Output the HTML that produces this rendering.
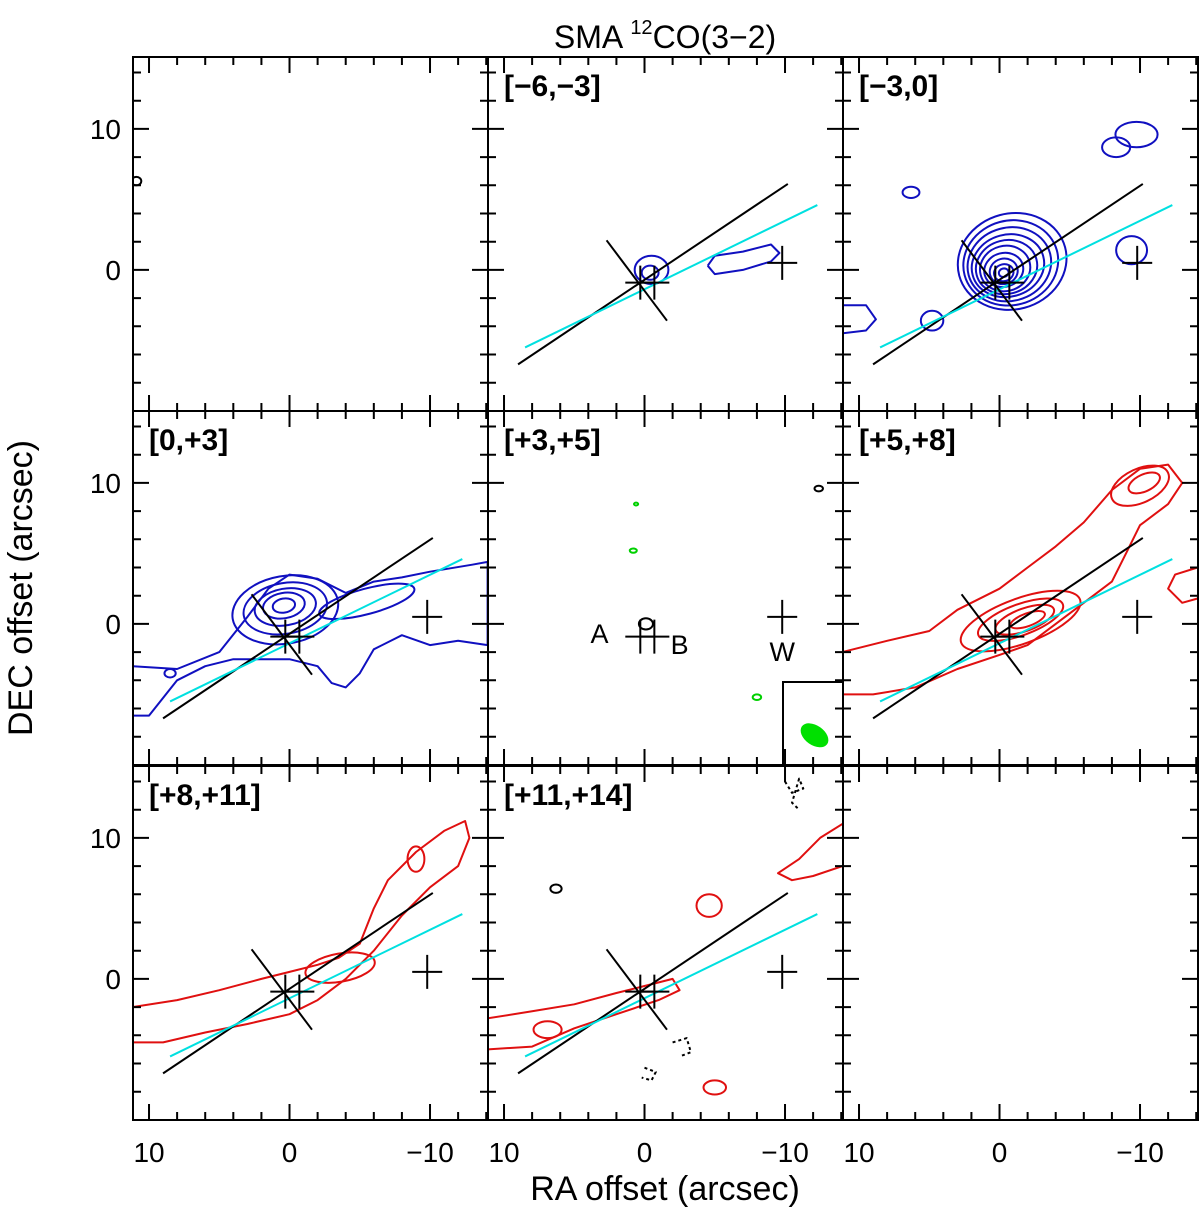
<!DOCTYPE html>
<html><head><meta charset="utf-8"><style>
body{margin:0;background:#fff;}
svg{display:block;font-family:"Liberation Sans",sans-serif;}
</style></head><body>
<svg id="chart" width="1200" height="1212" viewBox="0 0 1200 1212"></svg>
<script>
// ---- data ----
const channelLabels = ["", "[\u22126,\u22123]", "[\u22123,0]", "[0,+3]", "[+3,+5]", "[+5,+8]", "[+8,+11]", "[+11,+14]", ""];
const xTickValues = [10, 0, -10];
const xTickLabels = ["10", "0", "\u221210"];
const yTickValues = [10, 0];
const yTickLabels = ["10", "0"];
const lineSegments = [ // [ra1,dec1,ra2,dec2,color]
  [9, -6.7, -10.2, 6.1, "#000"],
  [8.5, -5.5, -12.3, 4.6, "#00e0e0"],
  [2.7, 2.1, -1.6, -3.6, "#000"]
];
const linePanels = [1, 2, 3, 5, 6, 7];
const crossPositions = [[0.3, -0.9], [-0.7, -0.9], [-9.8, 0.5]];
const crossPanels = [1, 2, 3, 4, 5, 6, 7];
// ellipse contours: [panel, ra, dec, rx, ry, rotDeg, color]
const ellipseContours = [
  [0, 10.9, 6.3, 0.35, 0.3, 0, "#000"],
  [1, -0.5, 0, 1.2, 1.0, 0, "#1010c0"],
  [1, -0.4, -0.2, 0.6, 0.5, 0, "#1010c0"],
  [2, -9.75, 9.6, 1.5, 0.9, 0, "#1010c0"],
  [2, -8.3, 8.7, 1.0, 0.7, 0, "#1010c0"],
  [2, 6.3, 5.5, 0.6, 0.4, 0, "#1010c0"],
  [2, 4.8, -3.6, 0.8, 0.7, 0, "#1010c0"],
  [2, -9.4, 1.4, 1.1, 1.0, 0, "#1010c0"],
  [2, -0.9, 0.6, 3.9, 3.4, -15, "#1010c0"],
  [2, -0.8, 0.5, 3.4, 3.0, -15, "#1010c0"],
  [2, -0.7, 0.4, 3.0, 2.6, -15, "#1010c0"],
  [2, -0.6, 0.3, 2.6, 2.2, -15, "#1010c0"],
  [2, -0.5, 0.2, 2.2, 1.9, -15, "#1010c0"],
  [2, -0.4, 0.1, 1.8, 1.6, -15, "#1010c0"],
  [2, -0.3, 0.0, 1.4, 1.2, -15, "#1010c0"],
  [2, -0.3, -0.1, 1.0, 0.9, -15, "#1010c0"],
  [2, -0.3, -0.2, 0.7, 0.6, -15, "#1010c0"],
  [2, -0.3, -0.2, 0.35, 0.3, -15, "#1010c0"],
  [3, 0.3, 1.0, 3.8, 2.4, -10, "#1010c0"],
  [3, 0.3, 1.1, 3.0, 1.8, -10, "#1010c0"],
  [3, 0.3, 1.2, 2.2, 1.3, -10, "#1010c0"],
  [3, 0.4, 1.3, 1.5, 0.9, -10, "#1010c0"],
  [3, 0.4, 1.3, 0.8, 0.5, -10, "#1010c0"],
  [3, -5.5, 1.6, 3.5, 0.9, -15, "#1010c0"],
  [3, 8.5, -3.5, 0.4, 0.3, 0, "#1010c0"],
  [4, 0.6, 8.5, 0.15, 0.1, 0, "#00d000"],
  [4, 0.8, 5.2, 0.25, 0.15, 0, "#00d000"],
  [4, -8, -5.2, 0.3, 0.2, 0, "#00d000"],
  [4, -12.4, 9.6, 0.3, 0.2, 0, "#000"],
  [4, -0.1, 0.0, 0.5, 0.4, 0, "#000"],
  [5, -1.5, 0.2, 4.5, 1.6, -20, "#e01010"],
  [5, -1.5, 0.3, 3.2, 1.1, -20, "#e01010"],
  [5, -1.8, 0.3, 2.2, 0.8, -20, "#e01010"],
  [5, -2.0, 0.3, 1.3, 0.45, -20, "#e01010"],
  [5, -10, 9.8, 2.2, 1.2, -25, "#e01010"],
  [5, -10.3, 10, 1.2, 0.6, -25, "#e01010"],
  [6, -9, 8.5, 0.6, 0.9, 0, "#e01010"],
  [6, -3.6, 0.8, 2.5, 1.0, -10, "#e01010"],
  [7, -4.6, 5.2, 0.9, 0.8, 0, "#e01010"],
  [7, -5, -7.7, 0.8, 0.5, 0, "#e01010"],
  [7, 6.9, -3.6, 1.0, 0.6, 0, "#e01010"],
  [7, 6.3, 6.4, 0.4, 0.3, 0, "#000"]
];
// polyline contours: [panel, color, dashed, points(ra,dec)]
const polyContours = [
  [1, "#1010c0", 0, [[-4.5,0.3],[-5,1],[-7,1.3],[-9,1.8],[-9.6,1.2],[-9,0.6],[-7,0],[-5,-0.3],[-4.5,0.3]]],
  [2, "#1010c0", 0, [[11.2,-2.5],[9.5,-2.5],[8.8,-3.5],[9.5,-4.3],[11.2,-4.5]]],
  [3, "#1010c0", 0, [[11.2,-3],[8,-3.2],[5,-2],[3,0.5],[1.5,2.5],[0,3.5],[-2,3.2],[-4,2.2],[-6,3],[-8,3.3],[-10,3.7],[-13,4.2],[-14.1,4.4],[-14.1,-1.5],[-12,-1.2],[-10,-1.5],[-8,-0.8],[-6,-1.8],[-5,-3.5],[-4,-4.5],[-3,-4.2],[-2,-3],[0,-2.5],[2,-2.5],[4,-2.5],[6,-3],[8,-4],[10,-6.5],[11.2,-6.5]]],
  [5, "#e01010", 0, [[11.2,-2],[8,-1.2],[5,-0.5],[3,1],[0,2.5],[-2,4],[-4,5.5],[-6,7.2],[-8,9.5],[-10,11],[-12,11.3],[-13,10],[-12,8.5],[-10,7],[-9,5],[-8,3],[-6,1.5],[-4,0],[-2,-1.5],[0,-2.2],[3,-3.2],[6,-4.5],[9,-5],[11.2,-5]]],
  [5, "#e01010", 0, [[-14.1,4],[-12.5,3.5],[-12,2.5],[-13,1.5],[-14.1,1.8]]],
  [6, "#e01010", 0, [[11.2,-2],[8,-1.5],[5,-0.8],[2,0],[0,0.5],[-2,1],[-3.5,1.5],[-5,2.5],[-6,5],[-7,7],[-9,9],[-11,10.5],[-12.5,11.2],[-12.8,10],[-12,8],[-10,6.5],[-8,4.5],[-6,2],[-4,0],[-2,-1.5],[0,-2.5],[3,-3.2],[6,-3.8],[9,-4.5],[11.2,-4.5]]],
  [7, "#e01010", 0, [[11.2,-2.8],[8,-2.3],[5,-1.8],[2,-1],[0,-0.5],[-2,0],[-2.5,-0.8],[-1,-1.5],[2,-2.5],[5,-3.5],[8,-4.8],[11.2,-5]]],
  [7, "#e01010", 0, [[-14.1,11],[-12.5,10],[-11,8.5],[-9.5,7.5],[-10.5,7],[-12,7.3],[-14.1,8]]],
  [7, "#000", 1, [[-10,14],[-10.5,13.2],[-11.3,13.5],[-11,14.2],[-10.5,12.5],[-11,12]]],
  [7, "#000", 1, [[-2,-4.5],[-3,-4.2],[-3.3,-5.2],[-2.5,-5.5]]],
  [7, "#000", 1, [[0,-6.3],[-0.8,-6.6],[-0.5,-7.2],[0.2,-7]]]
];
const beamEllipse = [-12.1, -7.9, 1.1, 0.7, 35];
const sourceLabels = [["A", 3.2, -0.7], ["B", -2.5, -1.5], ["W", -9.8, -2]];

// ---- geometry ----
const colX = [133, 488, 843], rowY = [57, 411, 766], PW = 355, PH = 354;
const RA0 = 11.14, DEC0 = 15.1, SX = 14.05, SY = 14.1;
function px(p, ra) { return colX[p % 3] + (RA0 - ra) * SX; }
function py(p, dec) { return rowY[Math.floor(p / 3)] + (DEC0 - dec) * SY; }
const NS = "http://www.w3.org/2000/svg";
const svg = document.getElementById("chart");
function mk(tag, attrs, parent) {
  const e = document.createElementNS(NS, tag);
  for (const k in attrs) e.setAttribute(k, attrs[k]);
  (parent || svg).appendChild(e);
  return e;
}
const defs = mk("defs", {});
const groups = [];
for (let p = 0; p < 9; p++) {
  const cp = mk("clipPath", { id: "cp" + p }, defs);
  mk("rect", { x: colX[p % 3], y: rowY[Math.floor(p / 3)], width: PW, height: PH }, cp);
  const g = mk("g", { "clip-path": "url(#cp" + p + ")" });
  
  
  groups.push(g);
}
ellipseContours.forEach(e => {
  const [p, ra, dec, rx, ry, rot, col] = e;
  const cx = px(p, ra), cy = py(p, dec);
  const el = mk("ellipse", { cx: cx, cy: cy, rx: rx * SX, ry: ry * SY, transform: "rotate(" + rot + " " + cx + " " + cy + ")", fill: "none", stroke: col, "stroke-width": 2 }, groups[p]);
  
  
});
polyContours.forEach(c => {
  const [p, col, dashed, pts] = c;
  const d = pts.map((q, i) => (i ? "L" : "M") + px(p, q[0]).toFixed(1) + "," + py(p, q[1]).toFixed(1)).join(" ");
  const el = mk("path", { d: d, fill: "none", stroke: col, "stroke-width": 2, "stroke-dasharray": dashed ? "3,3" : "none", "stroke-linejoin": "round" }, groups[p]);
  
  
});
linePanels.forEach(p => {
  lineSegments.forEach(s => {
    const el = mk("line", { x1: px(p, s[0]), y1: py(p, s[1]), x2: px(p, s[2]), y2: py(p, s[3]), stroke: s[4], "stroke-width": 2 }, groups[p]);
    
    
  });
});
crossPanels.forEach(p => {
  crossPositions.forEach(c => {
    const x = px(p, c[0]), y = py(p, c[1]);
    const el = mk("path", { d: `M${x - 15},${y}H${x + 15}M${x},${y - 17}V${y + 17}`, stroke: "#000", "stroke-width": 2, fill: "none" }, groups[p]);
    
    
  });
});
{
  const p = 4;
  const b = mk("rect", { x: 783, y: 682, width: 60, height: 84, fill: "#fff", stroke: "#000", "stroke-width": 2 }, groups[p]);
  
  
  const cx = px(p, beamEllipse[0]), cy = py(p, beamEllipse[1]);
  const e = mk("ellipse", { cx: cx, cy: cy, rx: beamEllipse[2] * SX, ry: beamEllipse[3] * SY, transform: "rotate(" + beamEllipse[4] + " " + cx + " " + cy + ")", fill: "#00e000" }, groups[p]);
  
  
  sourceLabels.forEach(l => {
    const t = mk("text", { x: px(p, l[1]), y: py(p, l[2]) + 9, "font-size": 27, "text-anchor": "middle", fill: "#000" }, groups[p]);
    t.textContent = l[0];
    
    
  });
}
for (let p = 0; p < 9; p++) {
  const x0 = colX[p % 3], y0 = rowY[Math.floor(p / 3)], c = p % 3, r = Math.floor(p / 3);
  let d = "";
  for (let v = 10; v >= -14; v -= 2) {
    const x = px(p, v); if (x < x0 + 1 || x > x0 + PW - 1) continue;
    const L = v % 10 === 0 ? 16 : 8;
    d += `M${x},${y0 + PH}v${-L}M${x},${y0}v${L}`;
  }
  for (let v = -8; v <= 14; v += 2) {
    const y = py(p, v); if (y < y0 + 1 || y > y0 + PH - 1) continue;
    const L = v % 10 === 0 ? 16 : 8;
    d += `M${x0},${y}h${L}M${x0 + PW},${y}h${-L}`;
  }
  const t = mk("path", { d: d, stroke: "#000", "stroke-width": 2, fill: "none" });
  
  
  const f = mk("rect", { x: x0, y: y0, width: PW, height: PH, fill: "none", stroke: "#000", "stroke-width": 2 });
  
  
  if (channelLabels[p]) {
    const tx = mk("text", { x: x0 + 16, y: y0 + 39, "font-size": 30, fill: "#000", "font-weight": "bold" });
    tx.textContent = channelLabels[p];
    
    
  }
  if (c === 0) {
    yTickValues.forEach((v, i) => {
      const tx = mk("text", { x: 121, y: py(p, v) + 10, "font-size": 28, "text-anchor": "end", fill: "#000" });
      tx.textContent = yTickLabels[i];
      
      
    });
  }
  if (r === 2) {
    xTickValues.forEach((v, i) => {
      const tx = mk("text", { x: px(p, v), y: 1162, "font-size": 28, "text-anchor": "middle", fill: "#000" });
      tx.textContent = xTickLabels[i];
      
      
    });
  }
}
</script>
<svg style="position:absolute;left:0;top:0" width="1200" height="1212">
<text x="665" y="48" font-size="32" text-anchor="middle" font-family="Liberation Sans, sans-serif">SMA <tspan font-size="20" dy="-14">12</tspan><tspan dy="14">CO(3−2)</tspan></text>
<text x="665" y="1200" font-size="34" text-anchor="middle" font-family="Liberation Sans, sans-serif">RA offset (arcsec)</text>
<text x="0" y="0" font-size="34" text-anchor="middle" font-family="Liberation Sans, sans-serif" transform="translate(32,588) rotate(-90)">DEC offset (arcsec)</text>
</svg>
</body></html>
